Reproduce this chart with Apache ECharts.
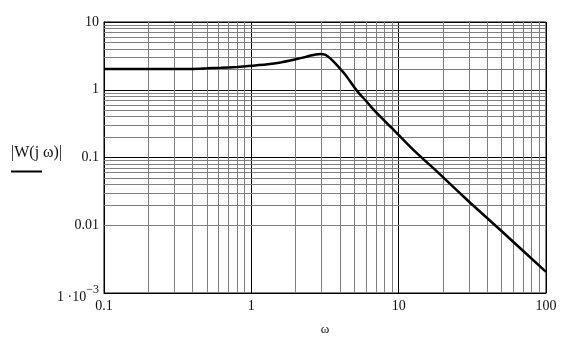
<!DOCTYPE html>
<html>
<head>
<meta charset="utf-8">
<script src="https://cdn.jsdelivr.net/npm/echarts@6/dist/echarts.min.js"></script>
<style>html,body{margin:0;padding:0;background:#fff;}#c{width:575px;height:341px;}</style>
</head>
<body>
<div id="c"></div>
<script>
// frequency ω (rad/s)
var omega = [0.1, 0.2, 0.3, 0.387, 0.5, 0.62, 0.8, 0.915, 1, 1.25, 1.58, 2.0, 2.33, 2.53, 2.73, 2.95, 3.19, 3.45, 3.73, 4.03, 4.37, 4.72, 5.09, 5.5, 5.95, 6.45, 7.54, 9.53, 13.0, 17.8, 30.7, 49, 100];
// |W(jω)|
var magnitude = [2.03, 2.03, 2.03, 2.03, 2.07, 2.11, 2.17, 2.22, 2.26, 2.36, 2.53, 2.82, 3.05, 3.2, 3.32, 3.38, 3.26, 2.88, 2.43, 2.01, 1.64, 1.30, 1.03, 0.84, 0.70, 0.57, 0.397, 0.239, 0.121, 0.065, 0.0213, 0.0085, 0.00205];
var xDecades = [0.1, 1, 10];
var yDecades = [0.001, 0.01, 0.1, 1];
var minorMultipliers = [2, 3, 4, 5, 6, 7, 8, 9];
var xTickLabels = {0.1: '0.1', 1: '1', 10: '10', 100: '100'};
var yTickLabels = {0.001: '{a|1 ·10}{s|−3}', 0.01: '0.01', 0.1: '0.1', 1: '1', 10: '10'};

var font = '"Liberation Serif", "Times New Roman", serif';
var curve = omega.map(function (w, i) { return [w, magnitude[i]]; });
var minorLines = [];
xDecades.forEach(function (d) { minorMultipliers.forEach(function (m) { minorLines.push({xAxis: +(d * m).toPrecision(6)}); }); });
yDecades.forEach(function (d) { minorMultipliers.forEach(function (m) { minorLines.push({yAxis: +(d * m).toPrecision(6)}); }); });

function lbl(map) {
  return function (v) {
    for (var k in map) { if (Math.abs(Math.log10(v) - Math.log10(+k)) < 1e-6) return map[k]; }
    return '';
  };
}

var chart = echarts.init(document.getElementById('c'), null, {renderer: 'canvas'});
chart.setOption({
  animation: false,
  backgroundColor: '#fff',
  grid: {left: 104, right: 29, top: 22, bottom: 48, show: true, borderColor: '#000', borderWidth: 1, backgroundColor: 'transparent'},
  xAxis: {
    type: 'log', logBase: 10, min: 0.1, max: 100,
    axisLine: {show: true, lineStyle: {color: '#000', width: 1}},
    axisTick: {show: false},
    axisLabel: {formatter: lbl(xTickLabels), color: '#111', fontFamily: font, fontSize: 14, margin: 6, showMinLabel: true, showMaxLabel: true},
    splitLine: {show: true, lineStyle: {color: '#000', width: 1}},
    name: 'ω', nameLocation: 'middle', nameGap: 30,
    nameTextStyle: {color: '#111', fontFamily: font, fontSize: 13}
  },
  yAxis: {
    type: 'log', logBase: 10, min: 0.001, max: 10,
    axisLine: {show: true, lineStyle: {color: '#000', width: 1}},
    axisTick: {show: false},
    axisLabel: {
      formatter: lbl(yTickLabels), color: '#111', fontFamily: font, fontSize: 14, margin: 5,
      rich: {
        a: {fontFamily: font, fontSize: 14, color: '#111', padding: [8, 0, 0, 0]},
        s: {fontFamily: font, fontSize: 12, color: '#111', padding: [0, 0, 6, 0]}
      }
    },
    splitLine: {show: true, lineStyle: {color: '#000', width: 1}}
  },
  graphic: [
    {type: 'text', left: 11, top: 145, style: {text: '|W(j ω)|', font: '16px ' + font, fill: '#111'}},
    {type: 'line', shape: {x1: 11, y1: 171.5, x2: 42, y2: 171.5}, style: {stroke: '#000', lineWidth: 2}}
  ],
  series: [
    {
      type: 'line', data: curve, showSymbol: false, symbol: 'none', z: 1, silent: true,
      lineStyle: {opacity: 0},
      markLine: {silent: true, symbol: 'none', label: {show: false}, animation: false,
        lineStyle: {color: '#7f7f7f', width: 1, type: 'solid'}, data: minorLines}
    },
    {
      type: 'line', data: curve, smooth: 0.2, showSymbol: false, symbol: 'none', z: 5,
      lineStyle: {color: '#000', width: 2.5}
    }
  ]
});
</script>
</body>
</html>
